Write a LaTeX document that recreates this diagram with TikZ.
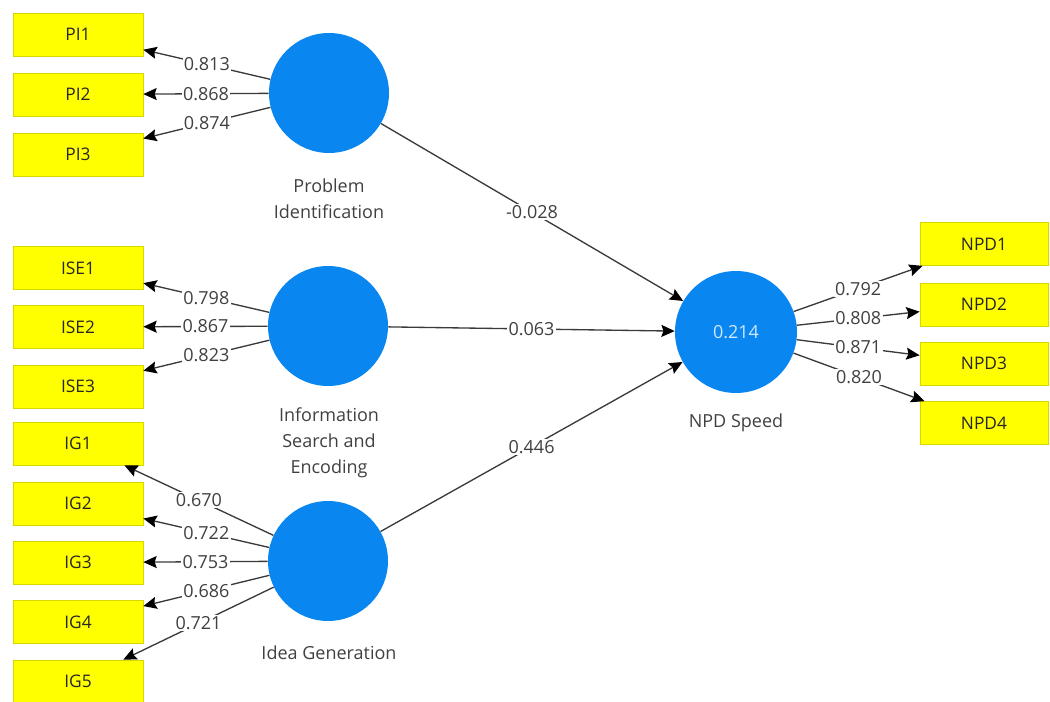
\documentclass[tikz,border=0pt]{standalone}
\usepackage{fontspec}
\setmainfont{Open Sans}
\usetikzlibrary{arrows.meta}
\definecolor{lvblue}{HTML}{0A86F0}
\definecolor{indyellow}{HTML}{FFFF00}
\definecolor{indedge}{HTML}{D6D600}
\definecolor{edgegrey}{HTML}{3A3A3A}
\definecolor{txtgrey}{HTML}{404040}
\definecolor{r2text}{HTML}{CFE7FF}

\begin{document}
\begin{tikzpicture}[x=0.75pt,y=-0.75pt,
  indicator/.style={rectangle, fill=indyellow, draw=indedge, line width=0.5pt,
    minimum width=97.5pt, minimum height=32.25pt, inner sep=0pt,
    font=\fontsize{13}{16}\selectfont, text=black!85},
  latent/.style={circle, fill=lvblue, draw=none, minimum size=90pt, inner sep=0pt,
    font=\fontsize{13.5}{16}\selectfont, text=r2text},
  caption/.style={align=center, font=\fontsize{13.5}{19.5}\selectfont, text=txtgrey},
  link/.style={draw=edgegrey, line width=1pt,
    -{Stealth[length=10pt,width=9pt,inset=1.5pt,color=black]}},
  coef/.style={fill=white, inner sep=1pt, font=\fontsize{13.5}{16}\selectfont, text=txtgrey}
]
\useasboundingbox (0,0) rectangle (1050,702);

% indicators of Problem Identification
\node[indicator] (PI1) at (78,34.5) {PI1};
\node[indicator] (PI2) at (78,94.5) {PI2};
\node[indicator] (PI3) at (78,154.5) {PI3};
% indicators of Information Search and Encoding
\node[indicator] (ISE1) at (78,268) {ISE1};
\node[indicator] (ISE2) at (78,327) {ISE2};
\node[indicator] (ISE3) at (78,386.5) {ISE3};
% indicators of Idea Generation
\node[indicator] (IG1) at (78,443.5) {IG1};
\node[indicator] (IG2) at (78,503.5) {IG2};
\node[indicator] (IG3) at (78,562.5) {IG3};
\node[indicator] (IG4) at (78,622) {IG4};
\node[indicator] (IG5) at (78,681.5) {IG5};
% indicators of NPD Speed
\node[indicator, minimum width=96pt] (NPD1) at (984,244) {NPD1};
\node[indicator, minimum width=96pt] (NPD2) at (984,304.5) {NPD2};
\node[indicator, minimum width=96pt] (NPD3) at (984,363.5) {NPD3};
\node[indicator, minimum width=96pt] (NPD4) at (984,423) {NPD4};

% latent variables
\node[latent] (PI) at (329,93) {};
\node[latent] (ISE) at (328,326) {};
\node[latent] (IG) at (328,561) {};
\node[latent, minimum size=91.5pt] (NPD) at (736,332) {0.214};

% captions
\node[caption] (PIcap) at (329,199) {Problem\\Identification};
\node[caption] (ISEcap) at (329,443) {Information\\Search and\\Encoding};
\node[caption] (IGcap) at (329,653) {Idea Generation};
\node[caption] (NPDcap) at (736,423) {NPD Speed};

% outer loadings
\draw[link] (PI) -- node[coef] {0.813} (PI1);
\draw[link] (PI) -- node[coef] {0.868} (PI2);
\draw[link] (PI) -- node[coef] {0.874} (PI3);
\draw[link] (ISE) -- node[coef] {0.798} (ISE1);
\draw[link] (ISE) -- node[coef] {0.867} (ISE2);
\draw[link] (ISE) -- node[coef] {0.823} (ISE3);
\draw[link] (IG) -- node[coef] {0.670} (IG1);
\draw[link] (IG) -- node[coef] {0.722} (IG2);
\draw[link] (IG) -- node[coef] {0.753} (IG3);
\draw[link] (IG) -- node[coef] {0.686} (IG4);
\draw[link] (IG) -- node[coef] {0.721} (IG5);
\draw[link] (NPD) -- node[coef] {0.792} (NPD1);
\draw[link] (NPD) -- node[coef] {0.808} (NPD2);
\draw[link] (NPD) -- node[coef] {0.871} (NPD3);
\draw[link] (NPD) -- node[coef] {0.820} (NPD4);

% path coefficients
\draw[link] (PI) -- node[coef] {-0.028} (NPD);
\draw[link] (ISE) -- node[coef] {0.063} (NPD);
\draw[link] (IG) -- node[coef] {0.446} (NPD);
\end{tikzpicture}
\end{document}
